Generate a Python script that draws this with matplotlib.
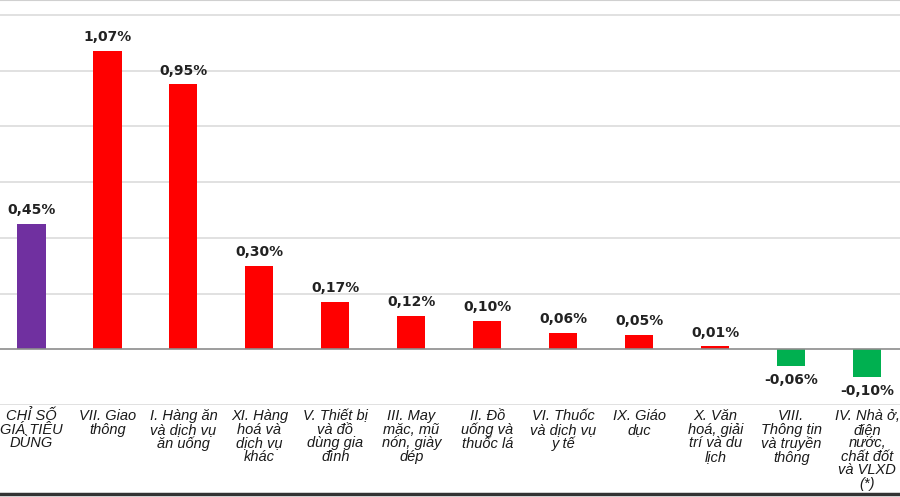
import matplotlib.pyplot as plt
from matplotlib.lines import Line2D

# Data
categories = [
    "CHỈ SỐ\nGIÁ TIÊU\nDÙNG",
    "VII. Giao\nthông",
    "I. Hàng ăn\nvà dịch vụ\năn uống",
    "XI. Hàng\nhoá và\ndịch vụ\nkhác",
    "V. Thiết bị\nvà đồ\ndùng gia\nđình",
    "III. May\nmặc, mũ\nnón, giày\ndép",
    "II. Đồ\nuống và\nthuốc lá",
    "VI. Thuốc\nvà dịch vụ\ny tế",
    "IX. Giáo\ndục",
    "X. Văn\nhoá, giải\ntrí và du\nlịch",
    "VIII.\nThông tin\nvà truyền\nthông",
    "IV. Nhà ở,\nđiện\nnước,\nchất đốt\nvà VLXD\n(*)",
]
values = [0.45, 1.07, 0.95, 0.30, 0.17, 0.12, 0.10, 0.06, 0.05, 0.01, -0.06, -0.10]

colors = []
for i, v in enumerate(values):
    if i == 0:
        colors.append('#7030a0')
    elif v >= 0:
        colors.append('#ff0000')
    else:
        colors.append('#00b050')

fig = plt.figure(figsize=(9, 4.97), dpi=100)
ax = fig.add_axes([0, 1 - 405 / 497, 1, 405 / 497])

x = list(range(len(values)))
ax.bar(x, values, width=0.37, color=colors, zorder=3)

ax.set_xlim(-0.414, 11.43)
ax.set_ylim(-0.2, 1.253)

# grid
for g in [-0.2, 0.2, 0.4, 0.6, 0.8, 1.0, 1.2]:
    ax.axhline(g, color='#dcdcdc', linewidth=1.2, zorder=1)
ax.axhline(0, color='#8c8c8c', linewidth=1.2, zorder=4)

for s in ['left', 'right', 'bottom']:
    ax.spines[s].set_visible(False)
ax.spines['top'].set_color('#d0d0d0')
ax.spines['top'].set_linewidth(1.5)

ax.set_yticks([])
ax.set_xticks(x)
ax.set_xticklabels(categories, fontsize=10.5, style='italic',
                   family='Liberation Sans', color='#1a1a1a', linespacing=0.96)
ax.tick_params(axis='x', length=0, pad=3)

# value labels
for xi, v in zip(x, values):
    txt = f"{v:.2f}%".replace('.', ',')
    if v >= 0:
        ax.annotate(txt, (xi, v), xytext=(0, 5), textcoords='offset points',
                    ha='center', va='bottom', fontsize=10, fontweight='bold',
                    color='#222222')
    else:
        ax.annotate(txt, (xi, v), xytext=(0, -5), textcoords='offset points',
                    ha='center', va='top', fontsize=10, fontweight='bold',
                    color='#222222')

# dark border line at the bottom
fig.add_artist(Line2D([0, 1], [0.006, 0.006], transform=fig.transFigure,
                      color='#333333', linewidth=2.5))

fig.savefig('out.png', dpi=100)
